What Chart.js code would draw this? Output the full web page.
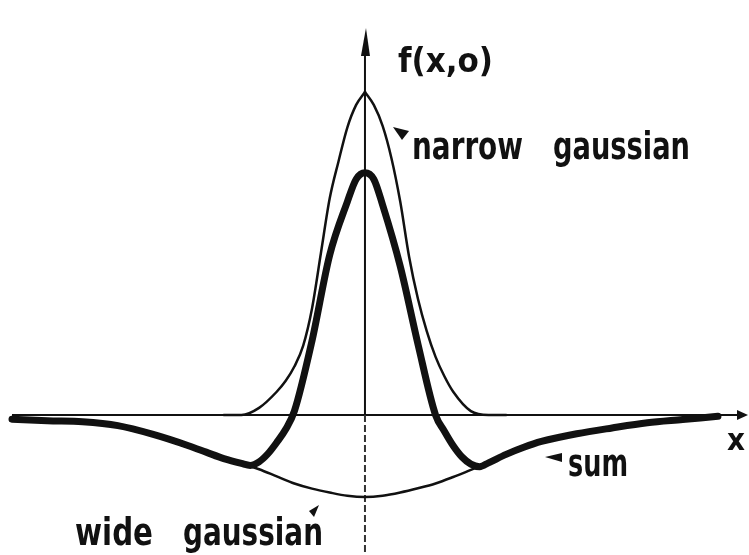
<!DOCTYPE html>
<html>
<head>
<meta charset="utf-8">
<script src="https://cdn.jsdelivr.net/npm/chart.js@4.4.0/dist/chart.umd.min.js"></script>
<style>
html, body { margin: 0; padding: 0; background: #fff; }
#curves { display: block; }
</style>
</head>
<body>
<canvas id="curves" width="749" height="555"></canvas>
<script>
// narrow gaussian (split at the peak later so the tip stays pointed)
const narrowX = [-4, -3.5, -3, -2.5, -2.25, -2, -1.75, -1.5, -1.25, -1, -0.75, -0.5, -0.25, 0,
                 0.25, 0.5, 0.75, 1, 1.25, 1.5, 1.75, 2, 2.25, 2.5, 3, 3.5, 4];
const narrowY = [0, 0, 0.22, 0.72, 1.05, 1.5, 2.15, 3.3, 5.0, 6.7, 7.85, 8.9, 9.6, 10,
                 9.6, 8.95, 7.95, 6.6, 4.9, 3.6, 2.6, 1.8, 1.2, 0.72, 0.12, 0, 0];

// wide (negative) gaussian
const wideX = [-10, -9, -8, -7, -6, -5, -4.5, -4, -3.5, -3, -2.5, -2, -1.5, -1, -0.5, 0,
               0.5, 1, 1.5, 2, 2.5, 3, 3.5, 4, 4.5, 5, 6, 7, 8, 9, 10];
const wideY = [-0.13, -0.18, -0.21, -0.33, -0.6, -0.95, -1.15, -1.35, -1.5, -1.68, -1.9, -2.12, -2.28, -2.4, -2.5, -2.54,
               -2.5, -2.4, -2.27, -2.12, -1.92, -1.7, -1.48, -1.22, -1.0, -0.82, -0.58, -0.4, -0.24, -0.14, -0.04];

// sum of the two
const sumX = [-10, -9, -8, -7, -6, -5, -4.5, -4, -3.5, -3.25, -3, -2.75, -2.5, -2.25, -2, -1.5, -1, -0.5, -0.25, 0,
              0.25, 0.5, 1, 1.5, 2, 2.25, 2.5, 2.75, 3, 3.25, 3.5, 4, 4.5, 5, 6, 7, 8, 9, 10];
const sumY = [-0.13, -0.18, -0.21, -0.33, -0.6, -0.95, -1.15, -1.35, -1.5, -1.56, -1.45, -1.2, -0.85, -0.45, 0.12, 2.3, 4.95, 6.6, 7.3, 7.5,
              7.3, 6.5, 4.6, 2.2, 0.0, -0.5, -0.95, -1.3, -1.52, -1.6, -1.48, -1.22, -1.0, -0.82, -0.58, -0.4, -0.24, -0.14, -0.04];

const pts = (xs, ys) => xs.map((x, i) => ({ x: x, y: ys[i] }));
const narrowPts = pts(narrowX, narrowY);
const peak = narrowX.indexOf(0);

const INK = '#111';

function curve(data, width) {
  return {
    data: data,
    borderColor: INK,
    borderWidth: width,
    pointRadius: 0,
    fill: false,
    cubicInterpolationMode: 'monotone',
    borderCapStyle: 'round',
    borderJoinStyle: 'round'
  };
}

// text squeezed to a given width, bold sans
function label(ctx, str, left, base, size, width) {
  ctx.save();
  ctx.font = 'bold ' + size + 'px "DejaVu Sans"';
  ctx.fillStyle = INK;
  ctx.textBaseline = 'alphabetic';
  const w = ctx.measureText(str).width;
  ctx.translate(left, base);
  ctx.scale(width / w, 1);
  ctx.fillText(str, 0, 0);
  ctx.restore();
}

function tri(ctx, a, b, c) {
  ctx.beginPath();
  ctx.moveTo(a[0], a[1]);
  ctx.lineTo(b[0], b[1]);
  ctx.lineTo(c[0], c[1]);
  ctx.closePath();
  ctx.fill();
}

const axesPlugin = {
  id: 'axes',
  beforeDatasetsDraw(chart) {
    const ctx = chart.ctx;
    const xs = chart.scales.x, ys = chart.scales.y;
    const x0 = xs.getPixelForValue(0), y0 = ys.getPixelForValue(0);
    const left = xs.getPixelForValue(wideX[0]);
    ctx.save();
    ctx.strokeStyle = INK;
    ctx.fillStyle = INK;
    ctx.lineWidth = 2;
    // horizontal axis
    ctx.beginPath();
    ctx.moveTo(left, y0);
    ctx.lineTo(chart.width - 4, y0);
    ctx.stroke();
    tri(ctx, [chart.width - 1, y0], [chart.width - 12, y0 - 5], [chart.width - 12, y0 + 5]);
    // vertical axis, solid above, broken below
    ctx.beginPath();
    ctx.moveTo(x0, 40);
    ctx.lineTo(x0, y0);
    ctx.stroke();
    tri(ctx, [x0 + 1, 28], [x0 - 4, 56], [x0 + 5, 56]);
    ctx.setLineDash([7, 3]);
    ctx.strokeStyle = '#333';
    ctx.beginPath();
    ctx.moveTo(x0, y0);
    ctx.lineTo(x0, chart.height);
    ctx.stroke();
    ctx.restore();
  },
  afterDatasetsDraw(chart) {
    const ctx = chart.ctx;
    ctx.save();
    ctx.fillStyle = INK;
    label(ctx, 'f(x,o)', 398, 72, 33, 95);
    label(ctx, 'narrow', 412, 159, 37, 111);
    label(ctx, 'gaussian', 553, 159, 37, 137);
    label(ctx, 'sum', 568, 476, 37, 60);
    label(ctx, 'wide', 75, 545, 37, 78);
    label(ctx, 'gaussian', 183, 545, 37, 140);
    label(ctx, 'x', 727, 450, 30, 18);
    // little pointers from the words to their curves
    tri(ctx, [393, 127], [409, 131], [402, 140]);
    tri(ctx, [545, 457], [562, 453], [562, 462]);
    tri(ctx, [319, 505], [309, 511], [314, 517]);
    ctx.restore();
  }
};

new Chart(document.getElementById('curves'), {
  type: 'line',
  data: {
    datasets: [
      curve(pts(sumX, sumY), 7),
      curve(narrowPts.slice(0, peak + 1), 2.5),
      curve(narrowPts.slice(peak), 2.5),
      curve(pts(wideX, wideY), 2.5)
    ]
  },
  options: {
    responsive: false,
    animation: false,
    devicePixelRatio: 1,
    layout: { padding: 0 },
    scales: {
      x: { type: 'linear', min: -10.34, max: 10.88, display: false },
      y: { type: 'linear', min: -4.334, max: 12.848, display: false }
    },
    plugins: {
      legend: { display: false },
      tooltip: { enabled: false }
    }
  },
  plugins: [axesPlugin]
});
</script>
</body>
</html>
